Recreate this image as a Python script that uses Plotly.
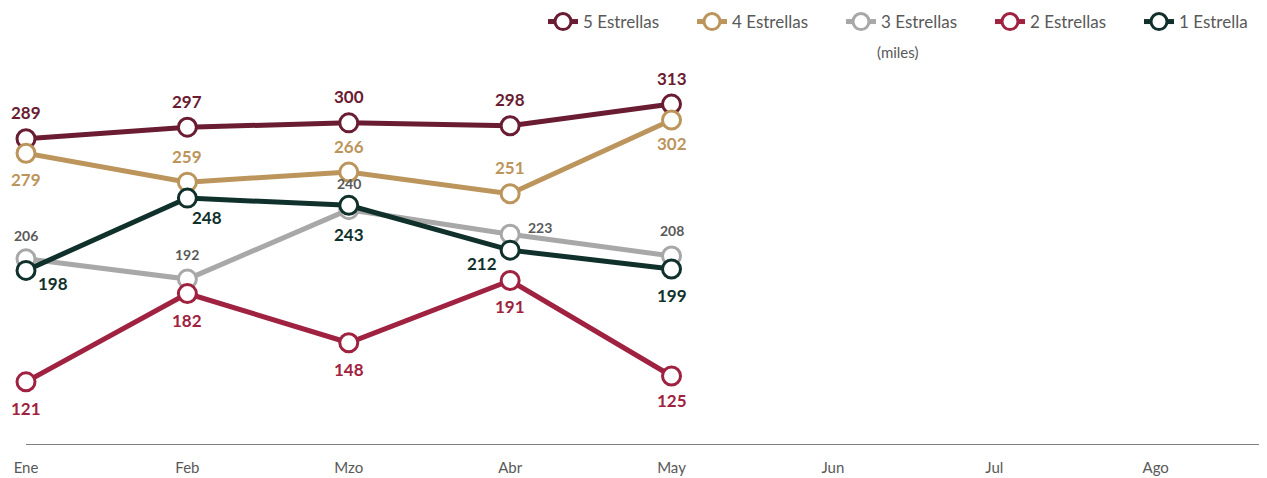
import plotly.graph_objects as go

months = ["Ene", "Feb", "Mzo", "Abr", "May", "Jun", "Jul", "Ago"]

names = ["5 Estrellas", "4 Estrellas", "3 Estrellas", "2 Estrellas", "1 Estrella"]
v5 = [289, 297, 300, 298, 313]
v4 = [279, 259, 266, 251, 302]
v3 = [206, 192, 240, 223, 208]
v2 = [121, 182, 148, 191, 125]
v1 = [198, 248, 243, 212, 199]

colors = ["#691C32", "#BC955C", "#A8A8A8", "#9F2241", "#10312B"]
label_colors = ["#691C32", "#BC955C", "#595959", "#9F2241", "#10312B"]
label_sizes = [17, 17, 14, 17, 17]
# label offsets (dx, dy) in pixels, dy positive = up
offsets = [
    [(0, 26)] * 5,
    [(0, -26), (0, 26), (0, 26), (0, 26), (0, -24)],
    [(0, 23), (0, 25), (0, 26), (30, 7), (0, 25)],
    [(0, -27), (0, -27), (0, -27), (0, -26), (0, -24)],
    [(27, -13), (20, -19), (0, -29), (-28, -13), (0, -27)],
]
series = [v5, v4, v3, v2, v1]

x_idx = list(range(len(months)))

# page has an 8px body margin; figure sized so the page is 1267x478
W, H = 1259, 470
L, R, T, B = 18, 0, 57, 34
PW, PH = W - L - R, H - T - B

fig = go.Figure()
for name, vals, col in zip(names, series, colors):
    fig.add_trace(go.Scatter(
        x=x_idx[:len(vals)], y=vals, name=name,
        mode="lines+markers",
        line=dict(color=col, width=5),
        marker=dict(symbol="circle", size=18, color="white", line=dict(color=col, width=3)),
        cliponaxis=False,
    ))

for vals, lcol, lsz, offs in zip(series, label_colors, label_sizes, offsets):
    for i, (v, (dx, dy)) in enumerate(zip(vals, offs)):
        fig.add_annotation(
            x=x_idx[i], y=v, xref="x", yref="y", text=str(v), showarrow=False,
            xshift=dx, yshift=dy, xanchor="center", yanchor="middle",
            font=dict(color=lcol, size=lsz, family="Lato", weight="bold"),
        )

fig.add_annotation(
    text="(miles)", xref="paper", yref="paper", x=(897 - 8 - L) / PW, y=(H - B - (52 - 8)) / PH,
    xanchor="center", yanchor="middle", showarrow=False,
    font=dict(size=15, color="#595959", family="Lato"),
)

fig.update_layout(
    width=W, height=H,
    margin=dict(l=L, r=R, t=T, b=B, autoexpand=False),
    paper_bgcolor="white", plot_bgcolor="white",
    font=dict(family="Lato", color="#595959"),
    showlegend=True,
    legend=dict(
        orientation="h", x=(543 - 8 - L) / PW, xanchor="left", xref="paper",
        y=1 - 14 / H, yanchor="middle", yref="container",
        font=dict(size=17, color="#595959", family="Lato"),
        entrywidth=104, entrywidthmode="pixels",
        traceorder="normal", itemclick=False,
    ),
    xaxis=dict(
        tickmode="array", tickvals=x_idx, ticktext=months,
        range=[0, 7.69], showgrid=False, zeroline=False,
        showline=True, linecolor="#808080", linewidth=1,
        ticks="", ticklabelstandoff=10,
        tickfont=dict(size=15, color="#595959", family="Lato"),
    ),
    yaxis=dict(range=[78, 340], visible=False, showgrid=False, zeroline=False),
)

fig.write_html("out.html")
